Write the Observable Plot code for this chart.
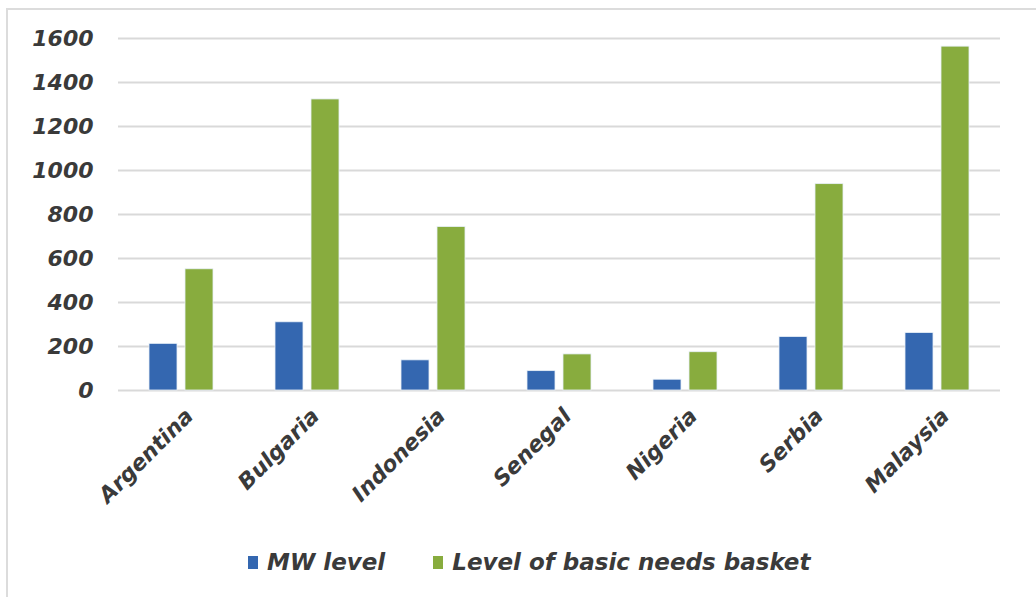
<!DOCTYPE html>
<html>
<head>
<meta charset="utf-8">
<script src="https://cdn.jsdelivr.net/npm/d3@7"></script>
<script src="https://cdn.jsdelivr.net/npm/@observablehq/plot@0.6"></script>
<style>
  html, body { margin: 0; padding: 0; background: #fff; overflow: hidden; width: 1036px; height: 597px; }
  #frame { position: absolute; left: 6px; top: 8px; width: 1100px; height: 700px; border: 2px solid #dcdcdc; box-sizing: border-box; }
  #chart { position: absolute; left: 0; top: 0; }
  #legend { position: absolute; left: 248px; top: 549px; display: flex; align-items: center;
    font-family: "DejaVu Sans", sans-serif; font-weight: bold; font-style: italic; font-size: 23px; color: #3a3a3a; }
  .item { display: flex; align-items: center; }
  .sw { width: 10px; height: 13px; margin-right: 9px; }
</style>
</head>
<body>
<div id="frame"></div>
<div id="chart"></div>
<div id="legend"></div>
<script>
const countries = ["Argentina", "Bulgaria", "Indonesia", "Senegal", "Nigeria", "Serbia", "Malaysia"];
const mwLevel = [212, 310, 137, 88, 49, 243, 261];
const basketLevel = [551, 1323, 743, 164, 174, 938, 1563];
const seriesNames = ["MW level", "Level of basic needs basket"];
const seriesColors = ["#3467b0", "#88ac3e"];
const yTicks = [0, 200, 400, 600, 800, 1000, 1200, 1400, 1600];

const data = countries.flatMap((c, i) => [
  {country: c, series: seriesNames[0], value: mwLevel[i]},
  {country: c, series: seriesNames[1], value: basketLevel[i]}
]);

const chart = Plot.plot({
  width: 1036,
  height: 540,
  marginLeft: 115,
  marginRight: 33,
  marginTop: 38,
  marginBottom: 150,
  style: {fontFamily: "'DejaVu Sans', sans-serif", fontWeight: "bold", fontStyle: "italic", fontSize: "21px", color: "#3a3a3a", background: "transparent"},
  fx: {domain: countries, paddingInner: 0, paddingOuter: 0, label: null},
  x: {domain: seriesNames, paddingInner: 0.22, paddingOuter: 0.85, axis: null},
  y: {domain: [0, 1600], label: null},
  color: {domain: seriesNames, range: seriesColors},
  marks: [
    Plot.ruleY(yTicks, {stroke: "#d9d9d9", strokeWidth: 2}),
    Plot.barY(data, {fx: "country", x: "series", y: "value", fill: "series", stroke: "#e8f0f8", strokeWidth: 0.8}),
    Plot.axisY({ticks: yTicks, tickFormat: d => String(d), tickSize: 0, tickPadding: 25, label: null, fontSize: 22}),
    Plot.axisFx({anchor: "bottom", tickSize: 0, tickPadding: 22, dx: 8, tickRotate: -45, label: null, fontSize: 22})
  ]
});
document.getElementById("chart").appendChild(chart);

const legend = document.getElementById("legend");
seriesNames.forEach((name, i) => {
  const item = document.createElement("div");
  item.className = "item";
  if (i > 0) item.style.marginLeft = "48px";
  const sw = document.createElement("span");
  sw.className = "sw";
  sw.style.background = seriesColors[i];
  const label = document.createElement("span");
  label.textContent = name;
  item.appendChild(sw);
  item.appendChild(label);
  legend.appendChild(item);
});
</script>
</body>
</html>
